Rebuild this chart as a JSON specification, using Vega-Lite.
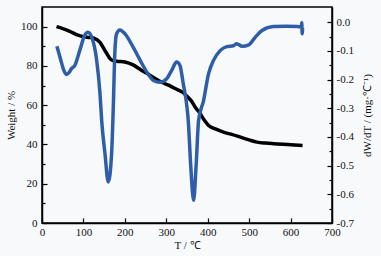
{
  "$schema": "https://vega.github.io/schema/vega-lite/v6.json",
  "autosize": "none",
  "width": 290,
  "height": 216,
  "padding": {"left": 42, "top": 7, "right": 49, "bottom": 33},
  "background": "#f8f9fb",
  "config": {
    "view": {"stroke": "#000", "strokeWidth": 1.5},
    "axis": {
      "labelFont": "Liberation Serif, Times New Roman, serif", "titleFont": "Liberation Serif, Times New Roman, serif",
      "labelFontSize": 11, "titleFontSize": 11, "titleFontWeight": "normal",
      "labelColor": "#111", "titleColor": "#111",
      "domainColor": "#000", "domainWidth": 1.5, "tickColor": "#000", "tickWidth": 1.2,
      "grid": false
    }
  },
  "datasets": {
    "weight": [
      {"T": 35, "w": 100}, {"T": 50, "w": 99}, {"T": 67, "w": 97.6}, {"T": 85, "w": 95.8},
      {"T": 99, "w": 94.9}, {"T": 115, "w": 94.5}, {"T": 124, "w": 94.2}, {"T": 140, "w": 92},
      {"T": 152, "w": 87.8}, {"T": 160, "w": 85}, {"T": 168, "w": 83}, {"T": 180, "w": 82.4},
      {"T": 200, "w": 82}, {"T": 220, "w": 80.5}, {"T": 240, "w": 77.8}, {"T": 253, "w": 76.2},
      {"T": 270, "w": 74}, {"T": 293, "w": 71.3}, {"T": 310, "w": 69.7}, {"T": 326, "w": 68},
      {"T": 340, "w": 66.5}, {"T": 350, "w": 64.5}, {"T": 360, "w": 62.3}, {"T": 370, "w": 59},
      {"T": 382, "w": 55.6}, {"T": 392, "w": 52.3}, {"T": 402, "w": 49.7}, {"T": 420, "w": 47.8},
      {"T": 438, "w": 46.3}, {"T": 460, "w": 45}, {"T": 479, "w": 43.7}, {"T": 500, "w": 42.3},
      {"T": 519, "w": 41.2}, {"T": 540, "w": 40.7}, {"T": 559, "w": 40.4}, {"T": 600, "w": 39.9},
      {"T": 629, "w": 39.5}
    ],
    "dtg": [
      {"T": 36, "d": -0.084}, {"T": 45, "d": -0.13}, {"T": 52, "d": -0.165}, {"T": 59, "d": -0.182},
      {"T": 65, "d": -0.176}, {"T": 71, "d": -0.162}, {"T": 79, "d": -0.151}, {"T": 91, "d": -0.099},
      {"T": 103, "d": -0.046}, {"T": 111, "d": -0.035}, {"T": 120, "d": -0.052}, {"T": 132, "d": -0.133},
      {"T": 140, "d": -0.249}, {"T": 144, "d": -0.342}, {"T": 152, "d": -0.458}, {"T": 160, "d": -0.557},
      {"T": 168, "d": -0.458}, {"T": 172, "d": -0.3}, {"T": 176, "d": -0.099}, {"T": 180, "d": -0.04},
      {"T": 188, "d": -0.027}, {"T": 200, "d": -0.04}, {"T": 220, "d": -0.087}, {"T": 237, "d": -0.133},
      {"T": 253, "d": -0.174}, {"T": 269, "d": -0.203}, {"T": 285, "d": -0.209}, {"T": 301, "d": -0.197},
      {"T": 313, "d": -0.168}, {"T": 325, "d": -0.139}, {"T": 333, "d": -0.151}, {"T": 341, "d": -0.215},
      {"T": 350, "d": -0.296}, {"T": 353, "d": -0.342}, {"T": 359, "d": -0.5}, {"T": 366, "d": -0.621},
      {"T": 372, "d": -0.5}, {"T": 378, "d": -0.342}, {"T": 390, "d": -0.273}, {"T": 402, "d": -0.18},
      {"T": 414, "d": -0.133}, {"T": 430, "d": -0.099}, {"T": 446, "d": -0.085}, {"T": 462, "d": -0.082},
      {"T": 470, "d": -0.075}, {"T": 483, "d": -0.084}, {"T": 499, "d": -0.079}, {"T": 515, "d": -0.052},
      {"T": 531, "d": -0.029}, {"T": 559, "d": -0.015}, {"T": 590, "d": -0.014}, {"T": 616, "d": -0.015},
      {"T": 626, "d": -0.016}, {"T": 627, "d": -0.002}, {"T": 628, "d": -0.04}, {"T": 629, "d": -0.02}
    ]
  },
  "layer": [
    {
      "data": {"name": "weight"},
      "mark": {"type": "line", "color": "#000", "strokeWidth": 3.5, "interpolate": "monotone"},
      "encoding": {
        "x": {"field": "T", "type": "quantitative",
          "scale": {"domain": [0, 700], "nice": false, "zero": false},
          "axis": {"title": "T / ℃", "values": [0,50,100,150,200,250,300,350,400,450,500,550,600,650,700],
            "labelExpr": "datum.value % 100 == 0 ? datum.label : ''",
            "tickSize": {"condition": {"test": "datum.value % 100 != 0", "value": -3}, "value": -5},
            "labelPadding": 8, "labelFlush": false, "titlePadding": 2}},
        "y": {"field": "w", "type": "quantitative",
          "scale": {"domain": [0, 110], "nice": false},
          "axis": {"title": "Weight / %", "orient": "left", "values": [0,10,20,30,40,50,60,70,80,90,100],
            "labelExpr": "datum.value % 20 == 0 ? datum.label : ''",
            "tickSize": {"condition": {"test": "datum.value % 20 != 0", "value": -3}, "value": -5},
            "labelPadding": 10, "titlePadding": 4}}
      }
    },
    {
      "data": {"name": "dtg"},
      "mark": {"type": "line", "color": "#2f5ea8", "strokeWidth": 3.5, "interpolate": "monotone"},
      "encoding": {
        "x": {"field": "T", "type": "quantitative"},
        "y": {"field": "d", "type": "quantitative",
          "scale": {"domain": [-0.7, 0.053], "nice": false, "zero": false},
          "axis": {"title": "dW/dT / (mg·℃⁻¹)", "orient": "right", "titleAngle": 270,
            "values": [-0.7,-0.65,-0.6,-0.55,-0.5,-0.45,-0.4,-0.35,-0.3,-0.25,-0.2,-0.15,-0.1,-0.05,0],
            "labelExpr": "abs(round(datum.value*100)) % 10 == 0 ? replace(format(datum.value, '.1f'), '−', '-') : ''",
            "tickSize": {"condition": {"test": "abs(round(datum.value*100)) % 10 != 0", "value": -3}, "value": -5},
            "labelPadding": 9, "titlePadding": 19}}
      }
    }
  ],
  "resolve": {"scale": {"y": "independent"}}
}
